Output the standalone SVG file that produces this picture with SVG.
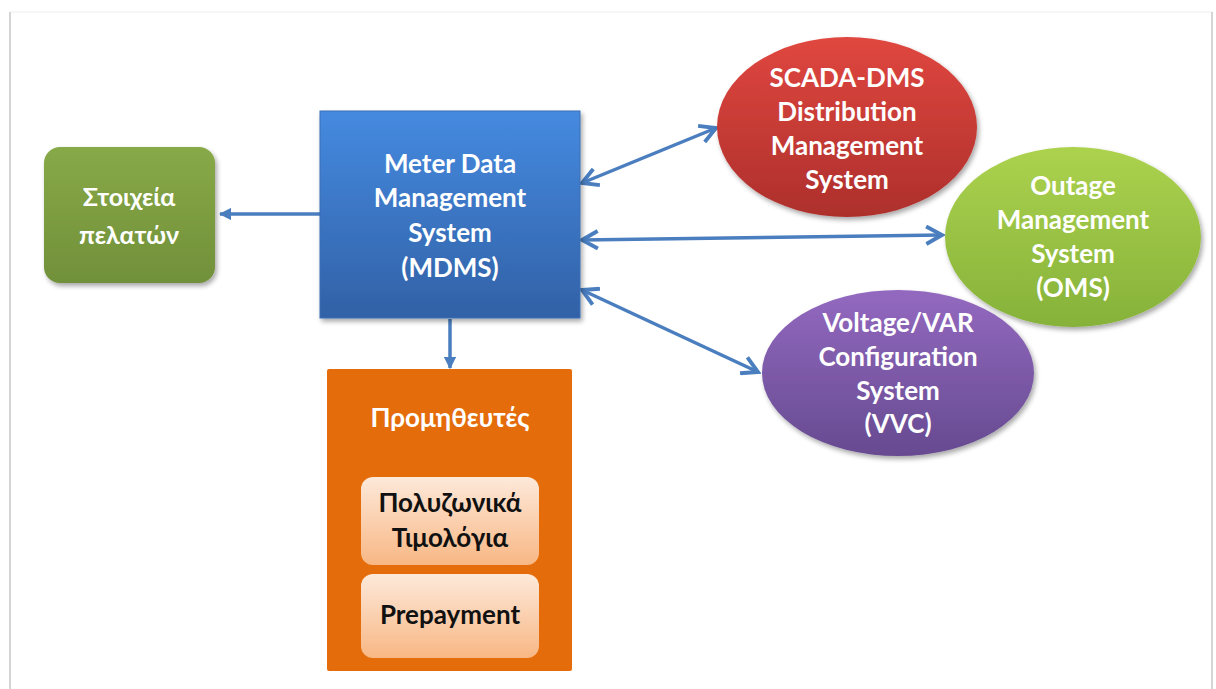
<svg xmlns="http://www.w3.org/2000/svg" width="1216" height="689" viewBox="0 0 1216 689">
<defs>
<style>
.t{font-family:Lato,"Open Sans","Noto Sans",sans-serif;font-weight:bold;text-anchor:middle;fill:#fff;font-size:26px}
.tb{font-family:Lato,"Open Sans","Noto Sans",sans-serif;font-weight:bold;text-anchor:middle;fill:#111;font-size:26px}
.c{stroke:#4a7ebf;stroke-width:3.5;fill:none}
</style>
<linearGradient id="gBlue" x1="0" y1="0" x2="0" y2="1"><stop offset="0" stop-color="#458ae0"/><stop offset="1" stop-color="#3161a6"/></linearGradient>
<linearGradient id="gGreen" x1="0" y1="0" x2="0" y2="1"><stop offset="0" stop-color="#88a947"/><stop offset="1" stop-color="#71903a"/></linearGradient>
<linearGradient id="gRed" x1="0" y1="0" x2="0" y2="1"><stop offset="0" stop-color="#e0473f"/><stop offset="1" stop-color="#ad2f2c"/></linearGradient>
<linearGradient id="gLime" x1="0" y1="0" x2="0" y2="1"><stop offset="0" stop-color="#acd24e"/><stop offset="1" stop-color="#86b23a"/></linearGradient>
<linearGradient id="gPurple" x1="0" y1="0" x2="0" y2="1"><stop offset="0" stop-color="#9369c0"/><stop offset="1" stop-color="#664a90"/></linearGradient>
<linearGradient id="gPeach" x1="0" y1="0" x2="0" y2="1"><stop offset="0" stop-color="#fde9da"/><stop offset="1" stop-color="#f8b784"/></linearGradient>
<filter id="sh" x="-10%" y="-10%" width="125%" height="125%"><feGaussianBlur in="SourceAlpha" stdDeviation="2.5"/><feOffset dx="2" dy="3"/><feComponentTransfer><feFuncA type="linear" slope="0.35"/></feComponentTransfer><feMerge><feMergeNode/><feMergeNode in="SourceGraphic"/></feMerge></filter>
<marker id="open" viewBox="0 0 12 12" refX="10" refY="6" markerWidth="6" markerHeight="6" orient="auto-start-reverse" markerUnits="strokeWidth"><path d="M1,1 L10,6 L1,11" fill="none" stroke="#4a7ebf" stroke-width="2.2" stroke-linejoin="miter"/></marker>
<marker id="solid" viewBox="0 0 10 10" refX="9" refY="5" markerWidth="3.5" markerHeight="3.5" orient="auto" markerUnits="strokeWidth"><path d="M0,0 L10,5 L0,10 z" fill="#4a7ebf"/></marker>
</defs>
<rect width="1216" height="689" fill="#fff"/>
<path d="M10,12 L1212,12" stroke="#eeeeee" stroke-width="1"/>
<path d="M10,12 L10,689 M1212,12 L1212,689" stroke="#c8c8c8" stroke-width="1.5"/>

<g id="connectors">
<path class="c" d="M320,214 L220,214" marker-end="url(#solid)"/>
<path class="c" d="M450,319 L450,368" marker-end="url(#solid)"/>
<path class="c" d="M582,183 L716,128" marker-start="url(#open)" marker-end="url(#open)"/>
<path class="c" d="M582,240 L942,235" marker-start="url(#open)" marker-end="url(#open)"/>
<path class="c" d="M582,290 L758,372" marker-start="url(#open)" marker-end="url(#open)"/>
</g>

<g id="customer">
<rect x="44" y="147" width="171" height="136" rx="16" fill="url(#gGreen)" filter="url(#sh)"/>
<text class="t" x="129" y="206" style="font-size:25px">Στοιχεία</text>
<text class="t" x="129" y="244" style="font-size:25px">πελατών</text>
</g>

<g id="mdms">
<rect x="320" y="111" width="260" height="207" fill="url(#gBlue)" stroke="#3a6fb5" stroke-width="1" filter="url(#sh)"/>
<text class="t" x="450" y="173">Meter Data</text>
<text class="t" x="450" y="207">Management</text>
<text class="t" x="450" y="242">System</text>
<text class="t" x="450" y="277">(MDMS)</text>
</g>

<g id="suppliers">
<rect x="327" y="369" width="245" height="302" rx="2" fill="#e46c0a"/>
<text class="t" x="450" y="427">Προμηθευτές</text>
</g>

<g id="multizone">
<rect x="361" y="477" width="178" height="88" rx="12" fill="url(#gPeach)"/>
<text class="tb" x="450" y="512">Πολυζωνικά</text>
<text class="tb" x="450" y="547">Τιμολόγια</text>
</g>

<g id="prepayment">
<rect x="361" y="574" width="178" height="84" rx="12" fill="url(#gPeach)"/>
<text class="tb" x="450" y="624">Prepayment</text>
</g>

<g id="scada">
<ellipse cx="847" cy="127" rx="130" ry="90" fill="url(#gRed)" filter="url(#sh)"/>
<text class="t" x="847" y="87">SCADA-DMS</text>
<text class="t" x="847" y="121">Distribution</text>
<text class="t" x="847" y="155">Management</text>
<text class="t" x="847" y="189">System</text>
</g>

<g id="oms">
<ellipse cx="1073" cy="237" rx="128" ry="90" fill="url(#gLime)" filter="url(#sh)"/>
<text class="t" x="1073" y="195">Outage</text>
<text class="t" x="1073" y="229">Management</text>
<text class="t" x="1073" y="263">System</text>
<text class="t" x="1073" y="297">(OMS)</text>
</g>

<g id="vvc">
<ellipse cx="898" cy="373" rx="136" ry="83" fill="url(#gPurple)" filter="url(#sh)"/>
<text class="t" x="898" y="332">Voltage/VAR</text>
<text class="t" x="898" y="366">Configuration</text>
<text class="t" x="898" y="400">System</text>
<text class="t" x="898" y="433">(VVC)</text>
</g>
</svg>
